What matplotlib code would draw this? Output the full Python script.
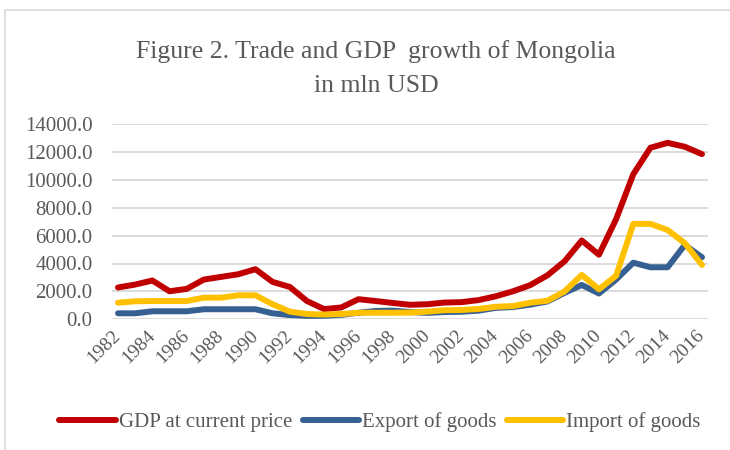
import matplotlib
matplotlib.use("Agg")
import matplotlib.pyplot as plt
from matplotlib.patches import Rectangle

years = list(range(1982, 2017))

gdp = [2280, 2490, 2780, 2010, 2180, 2850, 3040, 3230, 3590, 2680,
       2320, 1310, 730, 850, 1440, 1310, 1170, 1040, 1080, 1200,
       1230, 1380, 1650, 2010, 2450, 3150, 4160, 5650, 4630, 7180,
       10400, 12300, 12650, 12370, 11840]
export = [430, 430, 575, 575, 575, 720, 720, 720, 720, 430,
          300, 250, 250, 320, 470, 600, 620, 520, 460, 520,
          540, 620, 820, 880, 1050, 1280, 1900, 2460, 1850, 2850,
          4060, 3730, 3730, 5330, 4450]
imports = [1190, 1290, 1310, 1310, 1310, 1550, 1550, 1720, 1720, 1080,
           550, 380, 340, 380, 470, 470, 470, 480, 550, 650,
           670, 740, 900, 950, 1190, 1330, 2000, 3180, 2150, 3120,
           6840, 6840, 6400, 5450, 3900]

yticks = list(range(0, 14001, 2000))
xtick_years = list(range(1982, 2017, 2))

plt.rcParams['font.family'] = ['Liberation Serif', 'DejaVu Serif']
txt = '#595959'

fig = plt.figure(figsize=(7.3, 4.5), dpi=100)
# light chart border
fig.patches.append(Rectangle((5 / 730, -0.1), 1.2, 1.1 - 10 / 450,
                             transform=fig.transFigure, fill=False,
                             edgecolor='#d9d9d9', lw=1.2))

ax = fig.add_axes([112 / 730, 1 - 319.3 / 450, 596 / 730, 195.3 / 450])

ax.plot(years, gdp, color='#c00000', lw=4.3, label='GDP at current price',
        solid_joinstyle='round', solid_capstyle='round', clip_on=False, zorder=3)
ax.plot(years, export, color='#376092', lw=4.3, label='Export of goods',
        solid_joinstyle='round', solid_capstyle='round', clip_on=False, zorder=4)
ax.plot(years, imports, color='#ffc000', lw=4.3, label='Import of goods',
        solid_joinstyle='round', solid_capstyle='round', clip_on=False, zorder=5)

ax.set_ylim(0, 14000)
ax.set_xlim(1981.65, 2016.35)
ax.set_yticks(yticks)
ax.set_yticklabels([f'{v:.1f}' for v in yticks], color=txt, fontsize=15)
ax.set_xticks(xtick_years)
ax.set_xticklabels([str(y) for y in xtick_years], color=txt, fontsize=14,
                   rotation=45, ha='right', va='center', rotation_mode='anchor')
ax.tick_params(axis='both', length=0)
ax.tick_params(axis='y', pad=14)
ax.tick_params(axis='x', pad=10)
ax.grid(axis='y', color='#d9d9d9', lw=1.3)
ax.set_axisbelow(True)
for s in ax.spines.values():
    s.set_visible(False)

fig.text(376 / 730, 1 - 58 / 450, 'Figure 2. Trade and GDP  growth of Mongolia',
         ha='center', va='baseline', fontsize=18.5, color=txt)
fig.text(376 / 730, 1 - 92 / 450, 'in mln USD',
         ha='center', va='baseline', fontsize=18.5, color=txt)

leg = fig.legend(loc='center', bbox_to_anchor=(380 / 730, 1 - 422 / 450), ncol=3,
                 frameon=False, fontsize=15, handlelength=2.7, handletextpad=0.15,
                 columnspacing=0.5, borderaxespad=0)
for t in leg.get_texts():
    t.set_color(txt)

fig.savefig('out.png', dpi=100)
